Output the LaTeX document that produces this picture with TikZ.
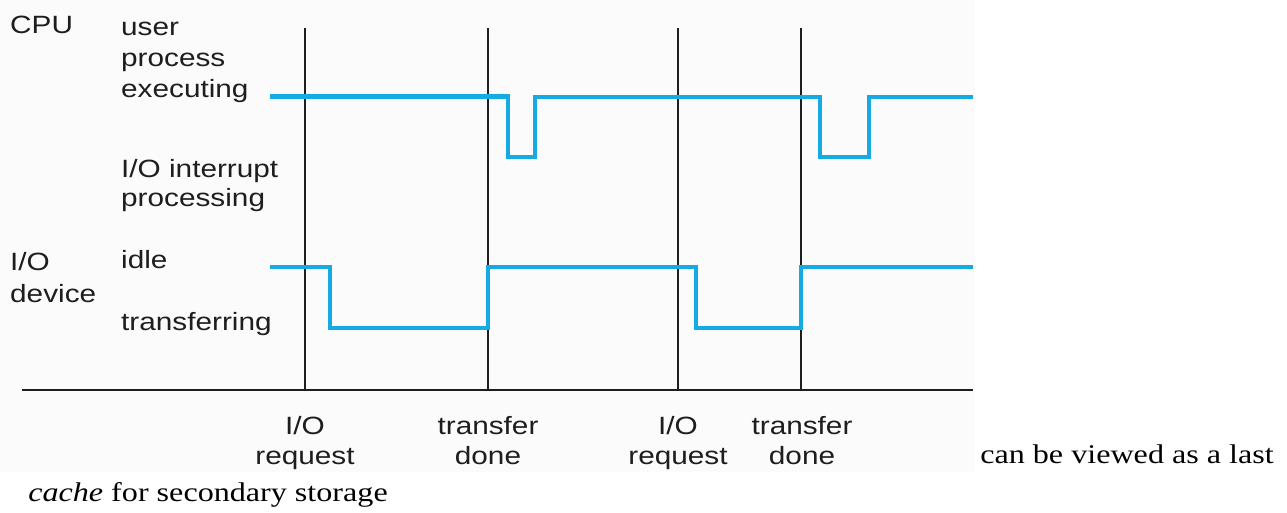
\documentclass[tikz,border=0pt]{standalone}
\usepackage{fontspec}
\setmainfont[FakeStretch=1.19]{Liberation Sans}
\newfontfamily\bodyserif[FakeStretch=1.19]{Liberation Serif}
\definecolor{trace}{RGB}{22,170,226}
\definecolor{ink}{RGB}{30,30,30}
\definecolor{panel}{RGB}{251,251,251}
\begin{document}
\begin{tikzpicture}[x=1pt,y=-1pt,
  lbl/.style={font=\fontsize{25}{30}\selectfont, text=ink, inner sep=0pt, anchor=base west},
  tick/.style={font=\fontsize{25}{30}\selectfont, text=ink, inner sep=0pt, anchor=base},
  prose/.style={font=\bodyserif\fontsize{27}{32}\selectfont, text=black, inner sep=0pt, anchor=base east},
  marker/.style={draw=ink, line width=1.6pt},
  axis/.style={draw=ink, line width=2.6pt},
  signal/.style={draw=trace, line width=4.3pt, line join=miter}]

% page and figure panel
\useasboundingbox (0,0) rectangle (1287,512);
\fill[white] (0,0) rectangle (1287,512);
\fill[panel] (0,0) rectangle (975,472);

% row labels
\node[lbl] (cpu)  at (10,33)  {CPU};
\node[lbl] (user) at (121,35) {user};
\node[lbl] (proc) at (121,66) {process};
\node[lbl] (exec) at (121,97) {executing};
\node[lbl] (intr) at (121,177) {I/O interrupt};
\node[lbl] (iproc) at (121,206) {processing};
\node[lbl] (io)   at (10,270) {I/O};
\node[lbl] (dev)  at (10,302) {device};
\node[lbl] (idle) at (121,268) {idle};
\node[lbl] (xfer) at (121,330) {transferring};

% event markers
\foreach \n/\x in {a/305,b/488,c/678,d/801}{
  \coordinate (\n top) at (\x,28);
  \coordinate (\n bot) at (\x,390);
  \draw[marker] (\n top) -- (\n bot);
}

% time axis
\coordinate (ax0) at (22,390);
\coordinate (ax1) at (973,390);
\draw[axis] (ax0) -- (ax1);

% event labels
\node[tick] (ea1) at (305,434) {I/O};
\node[tick] (ea2) at (305,464) {request};
\node[tick] (eb1) at (488,434) {transfer};
\node[tick] (eb2) at (488,464) {done};
\node[tick] (ec1) at (678,434) {I/O};
\node[tick] (ec2) at (678,464) {request};
\node[tick] (ed1) at (802,434) {transfer};
\node[tick] (ed2) at (802,464) {done};

% CPU activity trace
\coordinate (c0) at (270,96.5);
\coordinate (c9) at (973,97);
\draw[signal] (c0) -- (508,96.5) -- (508,157) -- (535,157) -- (535,97)
  -- (820,97) -- (820,157) -- (869,157) -- (869,97) -- (c9);

% I/O device trace
\coordinate (d0) at (270,267);
\coordinate (d9) at (973,267);
\draw[signal] (d0) -- (330,267) -- (330,328) -- (488,328) -- (488,267)
  -- (696,267) -- (696,328) -- (801,328) -- (801,267) -- (d9);

% running text
\node[prose] (t1) at (1274,463) {can be viewed as a last};
\node[prose] (t2) at (388,501) {\textit{cache} for secondary storage};
\end{tikzpicture}
\end{document}
